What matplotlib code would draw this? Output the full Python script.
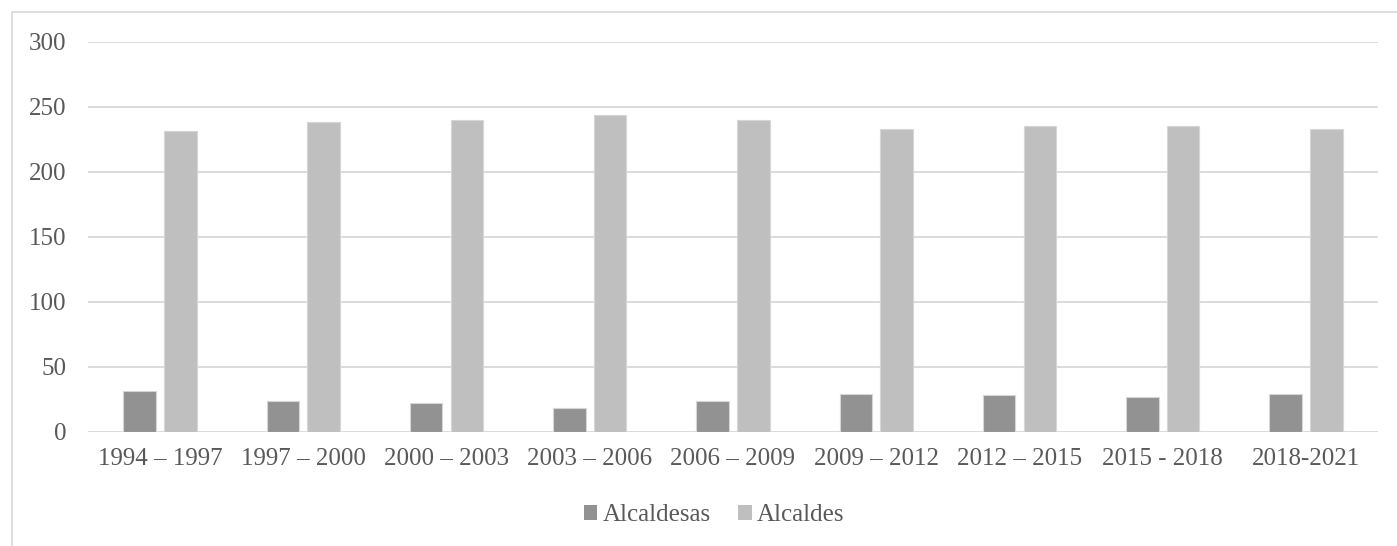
import matplotlib
matplotlib.use("Agg")
import matplotlib.pyplot as plt
import numpy as np
from matplotlib.patches import Rectangle

periodos = ["1994 – 1997", "1997 – 2000", "2000 – 2003", "2003 – 2006",
            "2006 – 2009", "2009 – 2012", "2012 – 2015", "2015 - 2018",
            "2018-2021"]
alcaldesas = [31, 24, 22, 18, 24, 29, 28, 27, 29]
alcaldes = [231, 238, 240, 244, 240, 233, 235, 235, 233]
yticks = [0, 50, 100, 150, 200, 250, 300]

plt.rcParams["font.family"] = ["Liberation Serif", "DejaVu Serif"]

W, H = 1397, 546
fig = plt.figure(figsize=(W / 100, H / 100), dpi=100)
fig.patch.set_facecolor("white")

# light outer frame
fig.patches.append(Rectangle((12 / W, -0.1), 2.0, (H - 12) / H + 0.1,
                             transform=fig.transFigure, fill=False,
                             edgecolor="#d9d9d9", linewidth=1.2))

ax = fig.add_axes([88.3 / W, 114.3 / H, 1289.4 / W, 390 / H])

x = np.arange(len(periodos))
bw = 0.227
off = 0.142
ax.bar(x - off, alcaldesas, bw, color="#929292", edgecolor="#d6d6d6",
       linewidth=0.8, label="Alcaldesas", zorder=3)
ax.bar(x + off, alcaldes, bw, color="#bfbfbf", edgecolor="#d6d6d6",
       linewidth=0.8, label="Alcaldes", zorder=3)

ax.set_xlim(-0.5, len(periodos) - 0.5)
ax.set_ylim(0, 300)
ax.set_yticks(yticks)
ax.set_xticks(x)
ax.set_xticklabels(periodos)
ax.grid(axis="y", color="#d9d9d9", linewidth=1.3, zorder=0)
ax.set_axisbelow(True)
for s in ax.spines.values():
    s.set_visible(False)
ax.tick_params(axis="both", length=0, labelsize=18, colors="#595959")
ax.tick_params(axis="y", pad=16)
ax.tick_params(axis="x", pad=12)

leg = fig.legend(loc="center", bbox_to_anchor=(714 / W, 1 - 515 / H),
                 ncol=2, frameon=False, fontsize=18,
                 handlelength=0.55, handleheight=0.55, handletextpad=0.2,
                 columnspacing=1.1)
for t in leg.get_texts():
    t.set_color("#595959")
for h in leg.legend_handles:
    h.set_edgecolor("none")

fig.savefig("out.png", dpi=100, facecolor="white")
